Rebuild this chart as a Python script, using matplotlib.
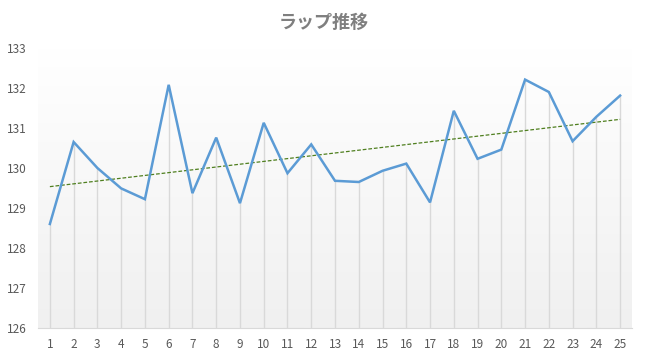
import numpy as np
import matplotlib.pyplot as plt

plt.rcParams['font.family'] = ['Noto Sans CJK JP', 'DejaVu Sans']

# lap data
laps = list(range(1, 26))
times = [128.60, 130.65, 130.00, 129.49, 129.22, 132.08, 129.37, 130.76, 129.12, 131.13,
         129.87, 130.59, 129.68, 129.65, 129.93, 130.11, 129.14, 131.43, 130.23, 130.46,
         132.21, 131.90, 130.67, 131.28, 131.81]
title = 'ラップ推移'
y_ticks = [126, 127, 128, 129, 130, 131, 132, 133]

fig = plt.figure(figsize=(6.47, 3.59), dpi=100)
ax = fig.add_axes([38/647, 31/359, 594/647, 280/359])

# plot area gradient (white top -> light grey bottom)
grad = np.linspace(0, 1, 256).reshape(-1, 1)
ax.imshow(grad, extent=[0.5, 25.5, 126, 133], aspect='auto', origin='upper',
          cmap=plt.matplotlib.colors.LinearSegmentedColormap.from_list('g', ['#ffffff', '#f0f0f0']),
          zorder=0)

x = np.array(laps)
y = np.array(times)
ax.vlines(x, 126, y, color='#d9d9d9', lw=1, zorder=1)
ax.plot(x, y, color='#5b9bd5', lw=1.8, zorder=3, solid_joinstyle='miter')

# linear trendline
k, b = np.polyfit(x, y, 1)
ax.plot(x, k*x + b, color='#4f7f1f', lw=0.9, ls=(0, (3, 1.5)), zorder=2)

ax.set_xlim(0.5, 25.5)
ax.set_ylim(126, 133)
ax.set_xticks(laps)
ax.set_yticks(y_ticks)
ax.tick_params(length=0, labelsize=8.5, colors='#595959')
ax.tick_params(axis='y', pad=8)
ax.tick_params(axis='x', pad=7)
for s in ['top', 'right', 'left']:
    ax.spines[s].set_visible(False)
ax.spines['bottom'].set_color('#d9d9d9')

fig.text(0.5, 1 - 22/359, title, ha='center', va='center', fontsize=13,
         color='#7f7f7f', fontweight='bold')

fig.savefig('out.png', dpi=100, facecolor='white')
